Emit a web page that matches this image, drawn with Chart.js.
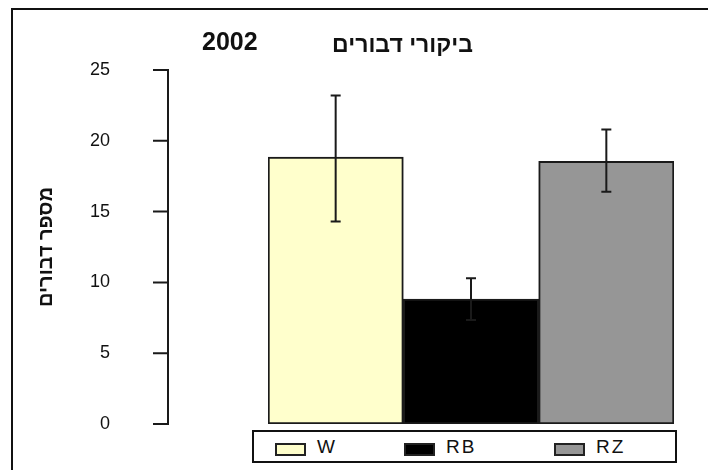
<!DOCTYPE html>
<html>
<head>
<meta charset="utf-8">
<script src="https://cdn.jsdelivr.net/npm/chart.js@4.4.1/dist/chart.umd.min.js"></script>
<style>
  body { margin: 0; background: #fff; }
  #wrap { position: relative; width: 708px; height: 470px; overflow: hidden; background: #fff; }
  #frame { position: absolute; left: 11px; top: 8px; width: 900px; height: 900px; border: 2px solid #111; }
  #c { position: absolute; left: 0; top: 0; }
  #legend { position: absolute; left: 252px; top: 430px; width: 425px; height: 33px; box-sizing: border-box;
            border: 2px solid #111; background: #fff; font: 19px "Liberation Sans", Arial, sans-serif; color: #111;
            letter-spacing: 2px; }
  .sw { position: absolute; top: 11px; width: 31px; height: 13px; box-sizing: border-box; border: 2px solid #222; }
  .lb { position: absolute; top: 5px; line-height: 20px; }
</style>
</head>
<body>
<div id="wrap">
  <div id="frame"></div>
  <canvas id="c" width="708" height="470"></canvas>
  <div id="legend"></div>
</div>
<script>
// data
let categories = ['W', 'RB', 'RZ'];
let means = [18.85, 8.83, 18.55];
let errLow = [14.3, 7.35, 16.4];
let errHigh = [23.2, 10.3, 20.8];
let barColors = ['#FFFFCC', '#000000', '#969696'];
let yTicks = [0, 5, 10, 15, 20, 25];
let titleYear = '2002';
let titleText = 'ביקורי דבורים';
let yTitle = 'מספר דבורים';

// html legend built from the arrays
let legendX = [21, 150, 300];
let legendDiv = document.getElementById('legend');
for (let i = 0; i < categories.length; i++) {
    let sw = document.createElement('div');
    sw.className = 'sw';
    sw.style.left = legendX[i] + 'px';
    sw.style.background = barColors[i];
    legendDiv.appendChild(sw);
    let lb = document.createElement('span');
    lb.className = 'lb';
    lb.style.left = (legendX[i] + 42) + 'px';
    lb.textContent = categories[i];
    legendDiv.appendChild(lb);
}

// y axis line + ticks sit away from the bars, title text, error bars
let extras = {
    id: 'extras',
    afterDatasetsDraw(chart) {
        let ctx = chart.ctx;
        let y = chart.scales.y;
        ctx.save();
        ctx.strokeStyle = '#1a1a1a';
        ctx.lineWidth = 2;
        // axis
        ctx.beginPath();
        ctx.moveTo(168, y.getPixelForValue(yTicks[yTicks.length - 1]) - 1);
        ctx.lineTo(168, y.getPixelForValue(0) + 1);
        yTicks.forEach(function (t) {
            let py = y.getPixelForValue(t);
            ctx.moveTo(153, py);
            ctx.lineTo(169, py);
        });
        ctx.stroke();
        // error bars
        let meta = chart.getDatasetMeta(0);
        meta.data.forEach(function (bar, i) {
            let top = y.getPixelForValue(errHigh[i]);
            let bot = y.getPixelForValue(errLow[i]);
            ctx.beginPath();
            ctx.moveTo(bar.x, top);
            ctx.lineTo(bar.x, bot);
            ctx.moveTo(bar.x - 5, top);
            ctx.lineTo(bar.x + 5, top);
            ctx.moveTo(bar.x - 5, bot);
            ctx.lineTo(bar.x + 5, bot);
            ctx.stroke();
        });
        // title
        ctx.fillStyle = '#111';
        ctx.textBaseline = 'alphabetic';
        ctx.font = 'bold 25px "Liberation Sans", Arial, sans-serif';
        ctx.textAlign = 'left';
        ctx.fillText(titleYear, 202, 50);
        ctx.font = 'bold 23px "Liberation Sans", Arial, sans-serif';
        ctx.direction = 'rtl';
        ctx.textAlign = 'right';
        ctx.fillText(titleText, 473, 52);
        ctx.restore();
    }
};

let chartCtx = document.getElementById('c').getContext('2d');
let chart = new Chart(chartCtx, {
    type: 'bar',
    data: {
        labels: categories,
        datasets: [{
            data: means,
            backgroundColor: barColors,
            borderColor: '#1a1a1a',
            borderWidth: 2,
            borderSkipped: false,
            categoryPercentage: 1,
            barPercentage: 1
        }]
    },
    options: {
        responsive: false,
        animation: false,
        layout: { padding: { left: 20, top: 70, right: 34, bottom: 46 } },
        plugins: {
            legend: { display: false },
            tooltip: { enabled: false }
        },
        scales: {
            x: { display: false },
            y: {
                min: 0,
                max: 25,
                afterFit: function (s) {
                    // fixed width, and keep the big label padding from eating the height
                    s.width = 248;
                    s.paddingTop = 0;
                    s.paddingBottom = 0;
                },
                border: { display: false },
                grid: { display: false },
                ticks: {
                    stepSize: 5,
                    padding: 150,
                    color: '#111',
                    font: { family: '"Liberation Sans", Arial, sans-serif', size: 18 }
                },
                title: {
                    display: true,
                    text: yTitle,
                    color: '#111',
                    padding: { top: 14, bottom: 0 },
                    font: { family: '"Liberation Sans", Arial, sans-serif', size: 20, weight: 'bold' }
                }
            }
        }
    },
    plugins: [extras]
});
</script>
</body>
</html>
